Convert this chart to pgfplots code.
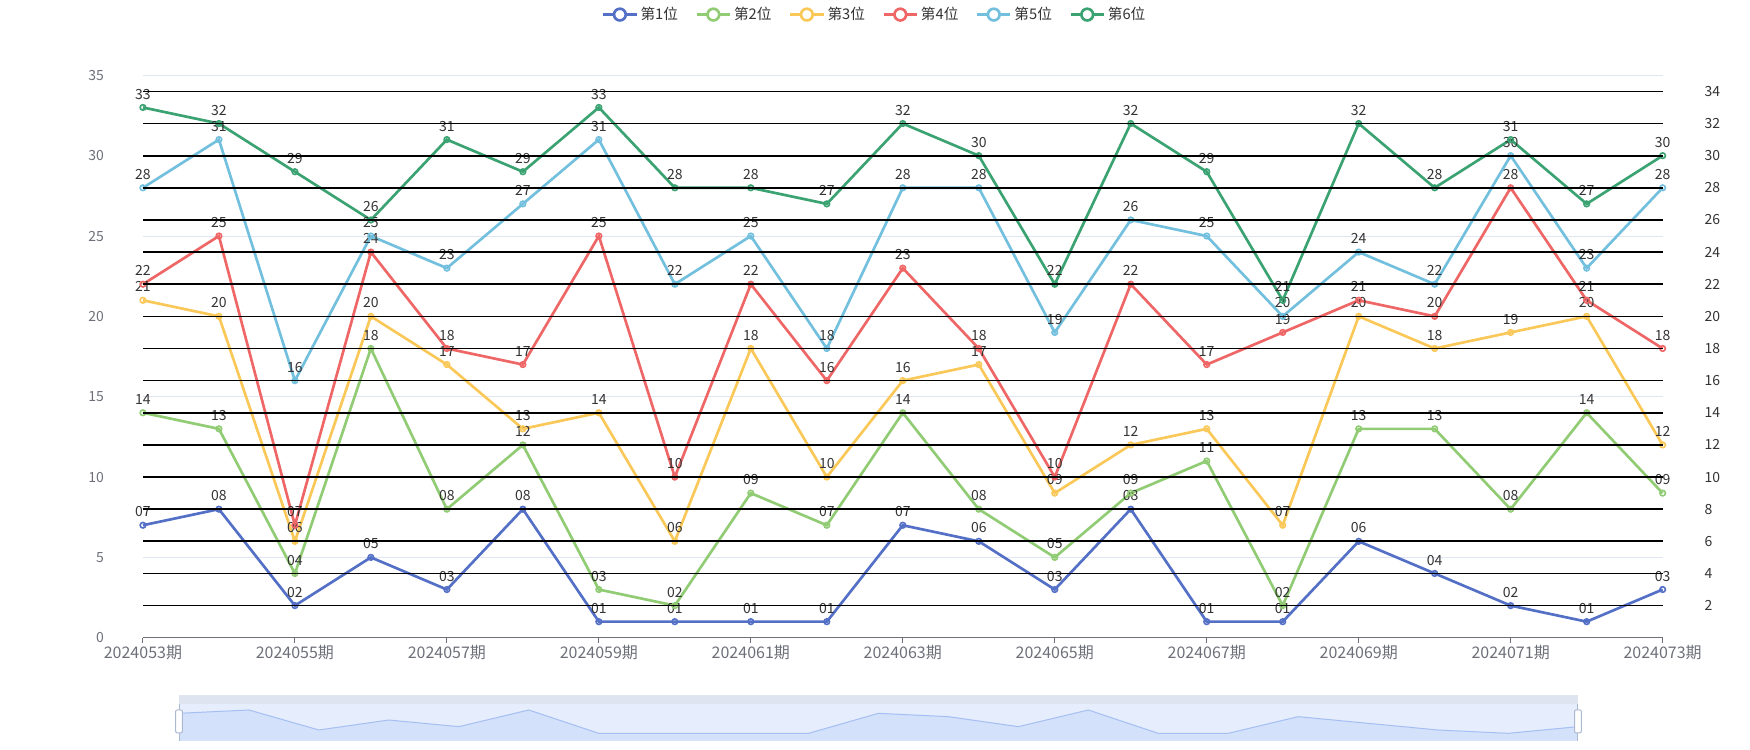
\documentclass[border=0pt]{standalone}
\usepackage{fontspec}
\setmainfont{Noto Sans CJK SC}
\usepackage{pgfplots}
\usepackage{pgfplotstable}
\pgfplotsset{compat=1.18}

\definecolor{cA}{HTML}{5470C6}
\definecolor{cB}{HTML}{91CC75}
\definecolor{cC}{HTML}{FAC858}
\definecolor{cD}{HTML}{EE6666}
\definecolor{cE}{HTML}{73C0DE}
\definecolor{cF}{HTML}{3BA272}
\definecolor{axgray}{HTML}{6E7079}
\definecolor{rgray}{HTML}{333333}
\definecolor{lightgrid}{HTML}{E0E6F1}
\definecolor{lbl}{HTML}{333333}
\definecolor{sstrip}{HTML}{DFE4F1}
\definecolor{sbody}{HTML}{E6EDFC}
\definecolor{sarea}{HTML}{D3E1FB}
\definecolor{sline}{HTML}{A5BFF3}
\definecolor{hgray}{HTML}{ACB8D1}

% draws per issue, index 0 = 2024053
\pgfplotstableread{
x  s1 s2 s3 s4 s5 s6
0  07 14 21 22 28 33
1  08 13 20 25 31 32
2  02 04 06 07 16 29
3  05 18 20 24 25 26
4  03 08 17 18 23 31
5  08 12 13 17 27 29
6  01 03 14 25 31 33
7  01 02 06 10 22 28
8  01 09 18 22 25 28
9  01 07 10 16 18 27
10 07 14 16 23 28 32
11 06 08 17 18 28 30
12 03 05 09 10 19 22
13 08 09 12 22 26 32
14 01 11 13 17 25 29
15 01 02 07 19 20 21
16 06 13 20 21 24 32
17 04 13 18 20 22 28
18 02 08 19 28 30 31
19 01 14 20 21 23 27
20 03 09 12 18 28 30
}\draws

\pgfplotsset{
  ser/.style={
    color=#1, line width=2pt, mark=o,
    mark size=2.1pt,
    mark options={fill=white, line width=1.2pt},
    nodes near coords, point meta=explicit symbolic,
  },
}

\begin{document}
\begin{tikzpicture}
\useasboundingbox (0,0) rectangle (1312.5pt,562.5pt);

% main axis with the data
\begin{axis}[
  at={(107.2pt,84.2pt)}, anchor=south west,
  scale only axis, width=1139.8pt, height=421.8pt,
  xmin=0, xmax=20, ymin=0, ymax=35,
  axis x line=bottom, axis y line=left,
  x axis line style={-, draw=axgray, line width=0.75pt},
  y axis line style={draw=none},
  xtick={0,2,...,20},
  xticklabels={2024053期,2024055期,2024057期,2024059期,2024061期,2024063期,2024065期,2024067期,2024069期,2024071期,2024073期},
  ytick={0,5,...,35},
  tick align=outside,
  major tick length=3.75pt,
  xtick style={draw=axgray, line width=0.75pt},
  ytick style={draw=none},
  ymajorgrids,
  grid style={draw=lightgrid, line width=0.75pt},
  /pgf/number format/assume math mode=true,
  xticklabel style={font=\fontsize{12}{14}\selectfont, text=axgray, yshift=2pt},
  yticklabel style={font=\fontsize{10.5}{12}\selectfont, text=axgray, xshift=-22pt},
  every node near coord/.append style={font=\fontsize{10.5}{12}\selectfont, text=lbl, anchor=base, inner sep=0pt, yshift=6.3pt},
  clip=false,
  legend style={at={(0.4817,1.108)}, anchor=center, draw=none, fill=none,
    font=\fontsize{11}{13}\selectfont, text=lbl,
    /tikz/every even column/.append style={column sep=11pt}},
  legend columns=6,
  legend image code/.code={
    \draw[#1, mark=none] (0pt,0pt) -- (25pt,0pt);
    \draw[#1, mark=none, fill=white] (12.5pt,0pt) circle (4.4pt);
  },
]
\addplot[ser=cA] table[x=x, y=s1, meta=s1] {\draws};
\addlegendentry{第1位}
\addplot[ser=cB] table[x=x, y=s2, meta=s2] {\draws};
\addlegendentry{第2位}
\addplot[ser=cC] table[x=x, y=s3, meta=s3] {\draws};
\addlegendentry{第3位}
\addplot[ser=cD] table[x=x, y=s4, meta=s4] {\draws};
\addlegendentry{第4位}
\addplot[ser=cE] table[x=x, y=s5, meta=s5] {\draws};
\addlegendentry{第5位}
\addplot[ser=cF] table[x=x, y=s6, meta=s6] {\draws};
\addlegendentry{第6位}
\end{axis}

% right axis, black grid on top
\begin{axis}[
  at={(107.2pt,84.2pt)}, anchor=south west,
  scale only axis, width=1139.8pt, height=421.8pt,
  xmin=0, xmax=20, ymin=0, ymax=35,
  axis y line=right, axis x line=none,
  y axis line style={draw=none},
  ytick={2,4,...,34},
  ytick style={draw=none},
  ymajorgrids,
  grid style={draw=black, line width=1.25pt},
  /pgf/number format/assume math mode=true,
  yticklabel style={font=\fontsize{10.5}{12}\selectfont, text=rgray, xshift=25.75pt},
]
\end{axis}

% data zoom slider
\begin{axis}[
  at={(134.25pt,7pt)}, anchor=south west,
  scale only axis, width=1049.25pt, height=27.5pt,
  xmin=0, xmax=20, ymin=-1.2, ymax=9.8,
  axis line style={draw=none}, ticks=none,
  axis background/.style={fill=sbody},
  clip=false,
]
\fill[sstrip] (rel axis cs:0,1) rectangle ([yshift=6.75pt]rel axis cs:1,1);
\addplot[draw=none, fill=sarea] table[x=x, y=s1] {\draws} -- (axis cs:20,-1.2) -- (axis cs:0,-1.2) -- cycle;
\addplot[draw=sline, line width=0.75pt, mark=none] table[x=x, y=s1] {\draws};
\draw[hgray, line width=0.75pt] (rel axis cs:0,0) -- (rel axis cs:0,1);
\draw[hgray, line width=0.75pt] (rel axis cs:1,0) -- (rel axis cs:1,1);
\draw[hgray, fill=white, rounded corners=1.5pt, line width=0.75pt]
  ([xshift=-2.6pt]rel axis cs:0,0.21) rectangle ([xshift=2.6pt]rel axis cs:0,0.84);
\draw[hgray, fill=white, rounded corners=1.5pt, line width=0.75pt]
  ([xshift=-2.6pt]rel axis cs:1,0.21) rectangle ([xshift=2.6pt]rel axis cs:1,0.84);
\end{axis}
\end{tikzpicture}
\end{document}
